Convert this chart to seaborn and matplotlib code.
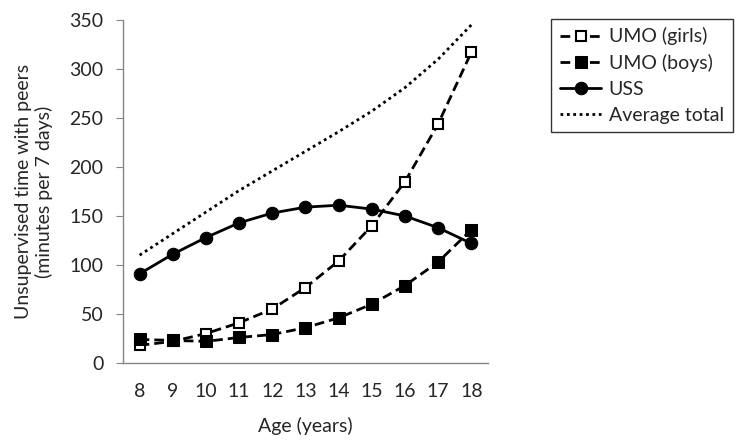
import matplotlib
matplotlib.use("Agg")
import matplotlib.pyplot as plt
import seaborn as sns
import pandas as pd

ages = [8, 9, 10, 11, 12, 13, 14, 15, 16, 17, 18]
umo_girls = [18, 22, 30, 41, 55, 77, 104, 140, 185, 244, 317]
umo_boys = [24, 23, 22, 26, 29, 36, 46, 60, 79, 103, 136]
uss = [91, 111, 128, 143, 153, 159, 161, 157, 150, 138, 122]
avg_total = [110, 132, 154, 176, 196, 216, 236, 257, 281, 310, 345]

sns.set_style("white")
plt.rcParams['font.family'] = ['Lato', 'DejaVu Sans']
FS = 14

fig = plt.figure(figsize=(7.38, 4.41), dpi=100)
ax = fig.add_axes([0.1667, 0.177, 0.4944, 0.7776])

df = pd.DataFrame({"age": ages, "girls": umo_girls, "boys": umo_boys,
                   "uss": uss, "total": avg_total})

sns.lineplot(data=df, x="age", y="girls", ax=ax, color="black", lw=2,
             linestyle=(0, (3.5, 1.8)), marker="s", markersize=7.5,
             markerfacecolor="white", markeredgecolor="black",
             markeredgewidth=1.5, label="UMO (girls)")
sns.lineplot(data=df, x="age", y="boys", ax=ax, color="black", lw=2,
             linestyle=(0, (3.5, 1.8)), marker="s", markersize=8.5,
             markerfacecolor="black", markeredgecolor="black",
             label="UMO (boys)")
sns.lineplot(data=df, x="age", y="uss", ax=ax, color="black", lw=2,
             linestyle="-", marker="o", markersize=9,
             markerfacecolor="black", markeredgecolor="black", label="USS")
sns.lineplot(data=df, x="age", y="total", ax=ax, color="black", lw=2,
             linestyle=(0, (1, 1.3)), label="Average total")

ax.set_xlim(7.5, 18.5)
ax.set_ylim(0, 350)
ax.set_xticks(ages)
ax.set_yticks(range(0, 351, 50))
for side in ["top", "right"]:
    ax.spines[side].set_visible(False)
for side in ["left", "bottom"]:
    ax.spines[side].set_color("#868686")
    ax.spines[side].set_linewidth(1)
ax.tick_params(axis="y", which="both", left=True, length=5, color="#868686",
               labelsize=FS, pad=9)
ax.tick_params(axis="x", bottom=False, labelsize=FS, pad=11)

ax.set_xlabel("Age (years)", fontsize=FS, labelpad=12)
ax.set_ylabel("Unsupervised time with peers\n(minutes per 7 days)",
              fontsize=FS, labelpad=12)

leg = ax.legend(loc="upper left", bbox_to_anchor=(0.734, 0.98),
                bbox_transform=fig.transFigure, fontsize=FS,
                frameon=True, fancybox=False, handlelength=2.1,
                borderpad=0.45, labelspacing=0.45, handletextpad=0.4)
leg.get_frame().set_edgecolor("black")
leg.get_frame().set_linewidth(1)

fig.savefig("out.png", dpi=100)
